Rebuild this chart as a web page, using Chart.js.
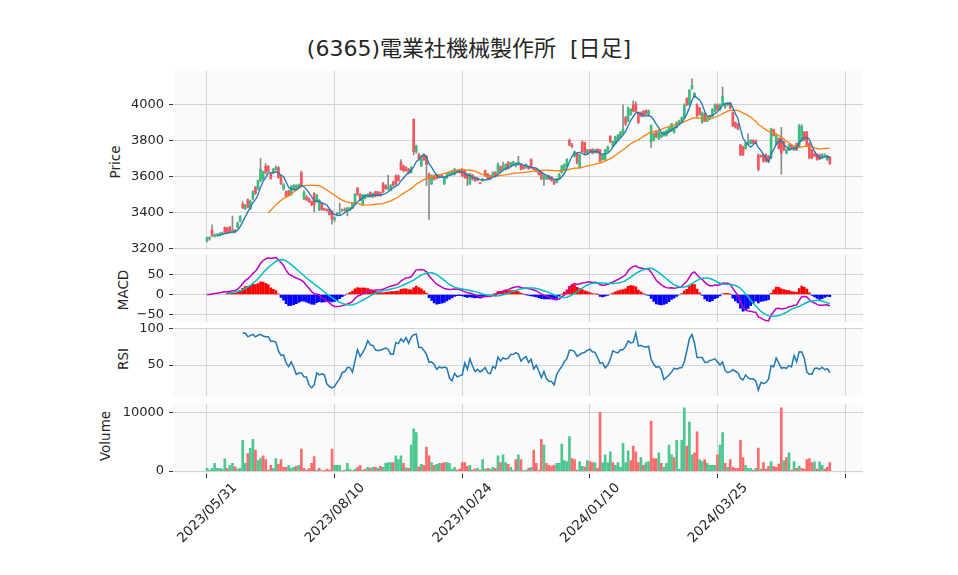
<!DOCTYPE html>
<html><head><meta charset="utf-8">
<script src="https://cdn.jsdelivr.net/npm/chart.js@4.4.0/dist/chart.umd.min.js"></script>
<style>
html,body{margin:0;padding:0;background:#fff;width:958px;height:575px;overflow:hidden;position:relative;font-family:"DejaVu Sans","Noto Sans CJK JP",sans-serif;}
canvas{position:absolute;left:0;}
.lbl{position:absolute;font-size:13.5px;color:#262626;white-space:nowrap;transform:translate(-50%,-50%) rotate(-90deg);}
#title{position:absolute;top:30px;left:0;width:938px;text-align:center;font-size:22px;color:#262626;white-space:pre;}
</style></head><body>
<div id="title">(6365)電業社機械製作所  [日足]</div>
<div class="lbl" style="left:115px;top:162px">Price</div>
<div class="lbl" style="left:123px;top:290px">MACD</div>
<div class="lbl" style="left:123px;top:359px">RSI</div>
<div class="lbl" style="left:105px;top:436px">Volume</div>
<canvas id="cPrice" width="958" height="205" style="top:58px"></canvas>
<canvas id="cMacd" width="958" height="93" style="top:242px"></canvas>
<canvas id="cRsi" width="958" height="94" style="top:315px"></canvas>
<canvas id="cVol" width="958" height="184" style="top:391px"></canvas>
<script>
// ---- data ----
const tickLabels = ['2023/05/31','2023/08/10','2023/10/24','2024/01/10','2024/03/25',''];
const opens = [3240,3252,3302,3268,3272,3276,3280,3316,3312,3316,3290,3300,3318,3350,3445,3420,3470,3420,3478,3540,
3532,3577,3590,3658,3655,3613,3622,3640,3650,3604,3530,3514,3520,3500,3530,3535,3540,3622,3478,3487,
3478,3460,3505,3460,3415,3451,3418,3415,3415,3406,3361,3388,3395,3410,3415,3406,3415,3424,3451,3536,
3500,3442,3478,3487,3510,3487,3514,3514,3510,3560,3550,3530,3525,3570,3604,3604,3680,3658,3650,3640,
3622,3919,3740,3721,3660,3721,3712,3613,3560,3604,3608,3598,3608,3560,3595,3612,3613,3613,3622,3631,
3640,3631,3613,3560,3608,3595,3590,3563,3580,3631,3613,3604,3604,3622,3622,3655,3640,3640,3676,3658,
3670,3658,3670,3667,3658,3650,3655,3694,3645,3640,3631,3622,3586,3586,3604,3595,3577,3568,3586,3622,
3640,3658,3802,3775,3712,3730,3650,3793,3788,3730,3748,3752,3734,3752,3748,3694,3694,3739,3824,3770,
3784,3802,3820,3840,3928,3910,3946,4000,4004,3955,3955,3964,3968,3946,3793,3802,3847,3811,3820,3829,
3829,3847,3856,3847,3874,3892,3910,3928,4036,4000,4090,4045,4000,3982,3901,3950,3910,3919,3937,3964,
4000,3973,4000,3986,4000,4009,3955,3901,3892,3775,3766,3757,3780,3784,3802,3800,3721,3716,3721,3721,
3712,3703,3860,3784,3811,3811,3793,3730,3748,3775,3748,3784,3766,3800,3847,3847,3784,3748,3725,3721,
3721,3703,3712,3694,3708];
const highs = [3262,3265,3330,3280,3282,3288,3290,3320,3318,3322,3380,3305,3345,3382,3460,3445,3475,3468,3520,3545,
3580,3700,3630,3672,3662,3620,3645,3660,3655,3610,3560,3520,3525,3550,3555,3555,3558,3630,3520,3495,
3482,3465,3510,3500,3472,3455,3422,3420,3420,3410,3375,3400,3451,3420,3425,3428,3430,3455,3505,3540,
3505,3500,3500,3505,3515,3508,3518,3518,3515,3568,3555,3608,3555,3575,3610,3610,3695,3665,3655,3645,
3655,3922,3775,3730,3718,3728,3718,3620,3610,3610,3612,3612,3610,3600,3618,3625,3635,3645,3635,3636,
3645,3635,3618,3618,3612,3600,3595,3566,3590,3636,3618,3608,3626,3628,3676,3660,3680,3670,3685,3680,
3685,3678,3712,3672,3662,3670,3660,3698,3650,3645,3636,3626,3610,3604,3608,3600,3580,3590,3616,3662,
3670,3700,3810,3785,3742,3735,3725,3798,3792,3752,3752,3756,3752,3756,3752,3725,3752,3770,3828,3797,
3825,3835,3852,4000,3935,3988,3978,4022,4018,3960,3960,3968,3972,3972,3888,3842,3852,3852,3842,3852,
3860,3874,3896,3878,3905,3914,3932,4005,4040,4085,4144,4068,4005,3986,3960,3955,3932,3942,3978,4005,
4005,4005,4099,4010,4014,4014,3960,3905,3896,3780,3770,3790,3838,3806,3806,3805,3725,3720,3725,3725,
3716,3870,3865,3833,3815,3874,3797,3752,3780,3780,3770,3788,3890,3890,3852,3852,3788,3752,3730,3726,
3726,3726,3726,3720,3712];
const lows = [3235,3245,3265,3262,3268,3270,3276,3285,3282,3288,3285,3285,3312,3345,3420,3415,3425,3415,3470,3500,
3525,3570,3580,3615,3625,3585,3615,3635,3590,3555,3525,3485,3490,3495,3525,3530,3535,3545,3470,3465,
3455,3438,3402,3455,3410,3410,3410,3405,3385,3334,3350,3380,3390,3405,3405,3380,3410,3420,3445,3495,
3465,3438,3475,3485,3484,3482,3486,3490,3490,3510,3528,3525,3520,3545,3555,3572,3635,3625,3630,3615,
3618,3720,3730,3690,3655,3690,3550,3361,3555,3580,3585,3594,3595,3555,3590,3608,3608,3608,3618,3618,
3600,3590,3550,3555,3580,3572,3575,3558,3575,3600,3582,3585,3600,3596,3618,3626,3635,3636,3640,3654,
3665,3654,3665,3636,3640,3645,3640,3645,3635,3625,3608,3582,3550,3582,3582,3572,3555,3564,3582,3618,
3636,3654,3770,3760,3708,3670,3645,3735,3726,3726,3735,3726,3730,3730,3680,3690,3690,3735,3788,3766,
3780,3798,3815,3835,3885,3905,3940,3960,3958,3895,3932,3932,3945,3942,3762,3798,3815,3806,3815,3825,
3825,3842,3850,3842,3870,3888,3905,3924,3995,3995,4085,4040,3932,3942,3896,3905,3905,3915,3932,3960,
3968,3968,3995,3980,3995,3978,3878,3870,3860,3716,3716,3752,3775,3780,3780,3786,3631,3706,3680,3680,
3680,3698,3825,3780,3752,3613,3744,3726,3744,3752,3744,3744,3762,3796,3798,3770,3698,3698,3710,3690,
3694,3698,3708,3690,3668];
const closes = [3258,3260,3271,3275,3278,3282,3284,3290,3286,3292,3300,3292,3340,3378,3425,3440,3430,3462,3515,3505,
3577,3640,3625,3622,3630,3590,3640,3650,3595,3560,3555,3490,3496,3545,3550,3550,3552,3550,3514,3470,
3460,3442,3442,3496,3469,3415,3415,3410,3388,3361,3370,3395,3400,3415,3412,3424,3425,3451,3500,3500,
3469,3496,3496,3500,3487,3505,3490,3495,3495,3514,3532,3540,3550,3550,3560,3577,3640,3631,3635,3620,
3649,3739,3770,3698,3712,3694,3667,3586,3604,3586,3590,3608,3600,3595,3613,3618,3631,3640,3631,3622,
3604,3595,3586,3613,3586,3577,3580,3560,3586,3604,3586,3590,3622,3600,3667,3631,3650,3667,3644,3676,
3680,3672,3680,3640,3645,3667,3645,3650,3640,3630,3613,3586,3604,3600,3586,3577,3559,3586,3613,3658,
3667,3696,3775,3766,3739,3676,3721,3739,3730,3748,3739,3730,3748,3734,3685,3721,3748,3766,3793,3793,
3820,3829,3847,3865,3892,3982,3973,3964,3964,3901,3937,3937,3950,3968,3883,3838,3820,3847,3838,3847,
3856,3870,3892,3874,3901,3910,3928,4000,4000,4081,4108,4063,3937,3946,3955,3910,3928,3937,3973,4000,
3973,4000,4045,4005,4009,3982,3883,3874,3865,3721,3721,3784,3790,3802,3784,3790,3640,3710,3685,3685,
3685,3865,3829,3829,3757,3730,3748,3748,3775,3757,3766,3748,3883,3880,3802,3775,3703,3703,3715,3694,
3698,3721,3721,3716,3672];
const volumes = [490,160,490,1310,490,490,330,2075,440,980,1310,710,330,490,5240,1310,3000,3880,5400,3600,
1800,2130,2620,1970,160,980,490,2130,1150,1970,650,650,980,490,650,820,980,3770,490,160,
440,1310,2460,160,490,100,50,330,160,3770,980,980,980,50,160,1310,330,100,330,650,
980,160,330,650,490,650,650,490,820,650,1310,1470,1470,1470,2620,1970,2620,1310,546,490,
4420,7200,6550,710,1150,980,4100,2620,1470,980,1150,1310,1310,1470,1470,1310,330,650,160,330,
1470,1470,820,980,160,330,490,160,1970,330,490,330,650,490,2620,1470,2780,1470,1150,650,
160,1970,2780,1970,50,160,490,650,3600,1310,160,5400,4420,1310,980,820,980,1310,1310,4590,
1800,1640,5900,2130,1970,160,1640,820,700,1800,1640,1470,1470,490,10000,1470,2780,1470,3280,1470,
980,1470,650,4750,1470,3440,1800,4260,3280,1470,2290,980,1470,1640,8520,2130,2130,3110,1310,650,
1310,4420,2780,2290,5240,330,5240,10800,4260,8350,2780,3110,6700,1970,1640,1970,1310,980,980,980,
2780,4420,6550,1310,650,1970,650,490,490,5240,2290,980,490,490,160,490,3930,330,1470,330,
820,1640,820,650,1200,10800,1800,2290,3110,160,1640,490,870,490,330,1970,2130,1470,1580,330,
1580,980,330,650,1470];

// ---- indicators derived from the closes ----
const N = closes.length;
function sma(arr, n){ return arr.map((_, i) => { if (i < n-1 || arr[i-n+1] == null) return null; let s = 0; for (let k=i-n+1;k<=i;k++) s += arr[k]; return s/n; }); }
function ema(arr, n){ const a = 2/(n+1); const out = []; arr.forEach((v,i)=> out.push(i===0 ? v : a*v + (1-a)*out[i-1])); return out; }
const ma5 = sma(closes, 5), ma25 = sma(closes, 25);
const e12 = ema(closes, 12), e26 = ema(closes, 26);
const macd = e12.map((v,i)=> v - e26[i]);
const signal = sma(macd, 9);
const hist = macd.map((v,i)=> signal[i] == null ? null : v - signal[i]);
const rsi = closes.map((_, i) => {
  if (i < 14) return null;
  let up = 0, dn = 0;
  for (let k = i-13; k <= i; k++) { const d = closes[k] - closes[k-1]; if (d > 0) up += d; else dn -= d; }
  return up + dn === 0 ? 50 : 100 * up / (up + dn);
});

// ---- styling ----
const FONT = '"DejaVu Sans","Noto Sans CJK JP",sans-serif';
const UP = '#3bbd7d', DOWN = '#f8545b', WICK = '#8a8a8a';
const VUP = '#4dc790', VDOWN = '#fd6b6c';
const GRID = '#d4d4d4', TXT = '#262626';
const xTickValues = [0, 50, 100, 150, 200, 250];

const bgPlugin = { id:'bg', beforeDraw(chart){ const {ctx, chartArea:a} = chart; ctx.save(); ctx.fillStyle = '#fafafa'; ctx.fillRect(a.left, a.top, a.right-a.left, a.bottom-a.top); ctx.restore(); } };

function fmt(v){ return v < 0 ? '\u2212' + Math.abs(v) : String(v); }
function opts(yMin, yMax, yTicks, showX){
  return {
    responsive:false, animation:false, devicePixelRatio:1, events:[],
    layout:{ padding:{ top:10, bottom: showX ? 0 : 10, left:0, right:95 } },
    plugins:{ legend:{display:false}, tooltip:{enabled:false} },
    scales:{
      x:{ type:'linear', min:-13.3, max:257, offset:false,
        afterBuildTicks: s => { s.ticks = xTickValues.map(v => ({value:v})); },
        grid:{ offset:false, color:GRID, lineWidth:1, drawTicks:showX, tickLength:4, tickColor:'#333' },
        border:{ display:false },
        ticks:{ display:showX, autoSkip:false, maxRotation:45, minRotation:45, padding:2, labelOffset:28,
          font:{family:FONT, size:13.5}, color:TXT, callback:(v, i) => tickLabels[i] ?? '' },
        afterFit: s => { s.height = showX ? 101 : 0; }
      },
      y:{ type:'linear', min:yMin, max:yMax,
        afterBuildTicks: s => { s.ticks = yTicks.map(v => ({value:v})); },
        grid:{ color:GRID, lineWidth:1, drawTicks:true, tickLength:4, tickColor:'#333' },
        border:{ display:false },
        ticks:{ font:{family:FONT, size:13}, color:TXT, padding:5, callback: v => fmt(v) },
        afterFit: s => { s.width = 173; }
      }
    }
  };
}
const pts = arr => arr.map((v,i) => ({x:i, y:v})).filter(p => p.y != null);

// price panel
new Chart(document.getElementById('cPrice'), {
  type:'bar',
  data:{ datasets:[
    { type:'line', data:pts(ma5), borderColor:'#1f77b4', borderWidth:1.3, pointRadius:0, order:0 },
    { type:'line', data:pts(ma25), borderColor:'#ff7f0e', borderWidth:1.3, pointRadius:0, order:1 },
    { type:'bar', data:closes.map((c,i)=>({x:i, y:[Math.min(opens[i],c), Math.max(opens[i],c)]})),
      backgroundColor:closes.map((c,i)=> c >= opens[i] ? UP : DOWN), barThickness:2, minBarLength:1, grouped:false, order:2 },
    { type:'bar', data:closes.map((c,i)=>({x:i, y:[lows[i], highs[i]]})),
      backgroundColor:WICK, barThickness:1, grouped:false, order:3 }
  ]},
  options: opts(3189.2, 4189.2, [3200,3400,3600,3800,4000], false),
  plugins:[bgPlugin]
});

// MACD panel
new Chart(document.getElementById('cMacd'), {
  type:'bar',
  data:{ datasets:[
    { type:'line', data:pts(macd), borderColor:'#bf00bf', borderWidth:1.5, pointRadius:0, order:1 },
    { type:'line', data:pts(signal), borderColor:'#00bfbf', borderWidth:1.5, pointRadius:0, order:0 },
    { type:'bar', data:pts(hist), backgroundColor:pts(hist).map(p => p.y >= 0 ? '#ff0000' : '#0000ff'), barThickness:2, grouped:false, order:2 }
  ]},
  options: opts(-69.1, 99.1, [-50,0,50], false),
  plugins:[bgPlugin]
});

// RSI panel
new Chart(document.getElementById('cRsi'), {
  type:'line',
  data:{ datasets:[ { data:pts(rsi), borderColor:'#1f77b4', borderWidth:1.5, pointRadius:0 } ]},
  options: opts(7.1, 101.3, [50,100], false),
  plugins:[bgPlugin]
});

// Volume panel
new Chart(document.getElementById('cVol'), {
  type:'bar',
  data:{ datasets:[ { data:volumes.map((v,i)=>({x:i, y:v})),
    backgroundColor:volumes.map((v,i)=> (i === 0 ? closes[0] >= opens[0] : closes[i] > closes[i-1]) ? VUP : VDOWN),
    barThickness:2, grouped:false } ]},
  options: opts(-492, 11475, [0,10000], true),
  plugins:[bgPlugin]
});
</script>
</body></html>
